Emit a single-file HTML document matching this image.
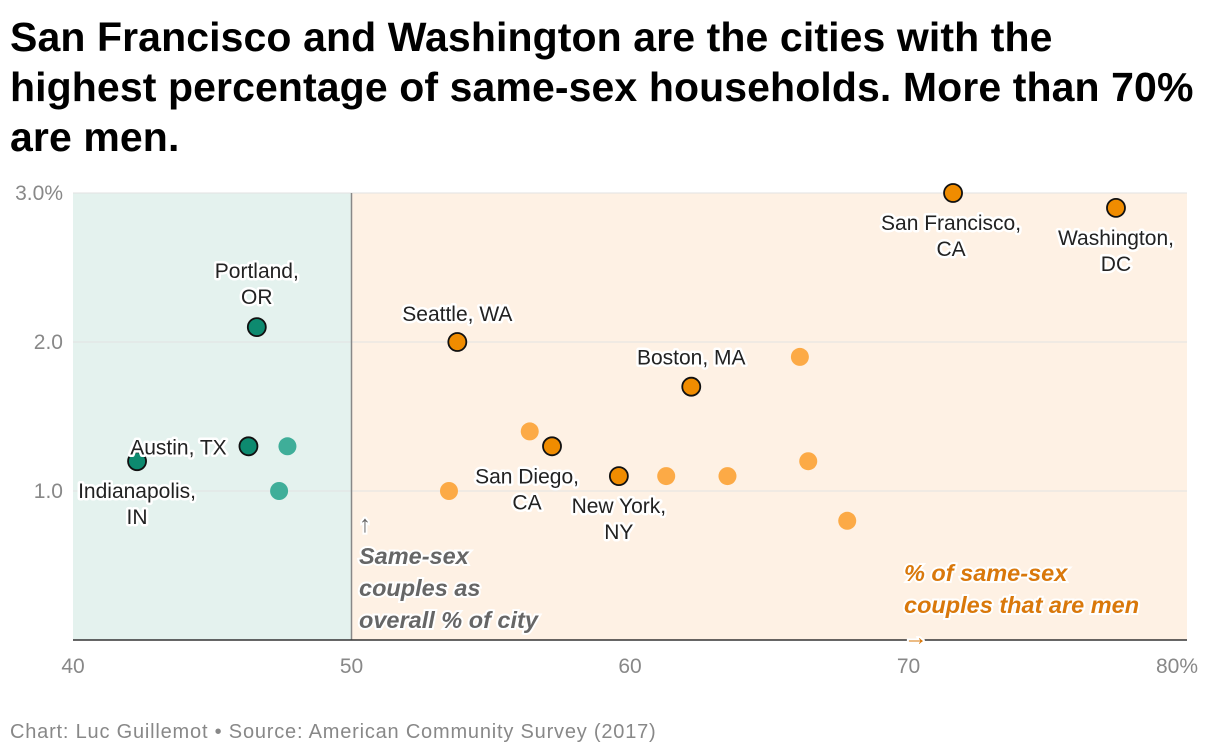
<!DOCTYPE html>
<html><head><meta charset="utf-8">
<style>
body{margin:0;width:1220px;height:756px;background:#fff;font-family:"Liberation Sans",sans-serif;overflow:hidden}
h1{position:absolute;left:10px;top:12px;margin:0;font-size:41px;line-height:50px;font-weight:bold;color:#000;white-space:nowrap;letter-spacing:0.1px}
#foot{position:absolute;left:10px;top:721px;font-size:20px;color:#888;letter-spacing:0.8px}
svg{position:absolute;left:0;top:0}
</style></head><body>
<h1>San Francisco and Washington are the cities with the<br>highest percentage of same-sex households. More than 70%<br>are men.</h1>
<svg id="chart" width="1220" height="756"></svg>
<div id="foot">Chart: Luc Guillemot • Source: American Community Survey (2017)</div>
<script>
const xTicks=[40,50,60,70,80];
const xTickLabels=["40","50","60","70","80%"];
const yTicks=[1,2,3];
const yTickLabels=["1.0","2.0","3.0%"];
const names=["Portland, OR","Austin, TX","Indianapolis, IN","Seattle, WA","San Francisco, CA","Washington, DC","Boston, MA","San Diego, CA","New York, NY","","","","","","","","",""];
const menPct=[46.6,46.3,42.3,53.8,71.6,77.45,62.2,57.2,59.6,47.7,47.4,53.5,56.4,61.3,63.5,66.1,66.4,67.8];
const sharePct=[2.1,1.3,1.2,2.0,3.0,2.9,1.7,1.3,1.1,1.3,1.0,1.0,1.4,1.1,1.1,1.9,1.2,0.8];
const labelLines=[["Portland,","OR"],["Austin, TX"],["Indianapolis,","IN"],["Seattle, WA"],["San Francisco,","CA"],["Washington,","DC"],["Boston, MA"],["San Diego,","CA"],["New York,","NY"]];
const labelOffsets=[[0,-49],[-70,8],[0,37],[0,-21],[-2,37],[0,37],[0,-22],[-25,37],[0,37]];
const NS="http://www.w3.org/2000/svg";
const svg=document.getElementById('chart');
const X=v=>73+(v-40)*(1187-73)/40;
const Y=v=>640-v*149;
function el(t,a,p){const e=document.createElementNS(NS,t);for(const k in a)e.setAttribute(k,a[k]);(p||svg).appendChild(e);return e;}
let r=el('rect',{x:X(40),y:Y(3),width:X(50)-X(40),height:Y(0)-Y(3),fill:'#e4f2ee'});

r=el('rect',{x:X(50),y:Y(3),width:X(80)-X(50),height:Y(0)-Y(3),fill:'#fef1e4'});

yTicks.forEach((t,i)=>{
 const g=el('line',{x1:X(40),x2:X(80),y1:Y(t),y2:Y(t),stroke:'#e2e2e2','stroke-width':1});
 
 const tx=el('text',{x:63,y:Y(t)+7,'text-anchor':'end','font-size':21,fill:'#888'});tx.textContent=yTickLabels[i];
 
});
xTicks.forEach((t,i)=>{
 const tx=el('text',{x:X(t)+(i==4?-10:0),y:673,'text-anchor':'middle','font-size':21,fill:'#888'});tx.textContent=xTickLabels[i];
 
});
let ln=el('line',{x1:X(50),x2:X(50),y1:Y(3),y2:Y(0),stroke:'#888','stroke-width':1.5});

ln=el('line',{x1:X(40),x2:X(80),y1:Y(0),y2:Y(0),stroke:'#333','stroke-width':1.5});

function ann(lines,x,y,color,name){
 const t=el('text',{x:x,y:y,'font-size':23.5,'font-weight':'bold','font-style':'italic',fill:color,stroke:'#fff','stroke-width':4,'paint-order':'stroke'});
 
 lines.forEach((l,i)=>{const s=el('tspan',{x:x,dy:i?32:0},t);s.textContent=l;});
}
ann(["↑","Same-sex","couples as","overall % of city"],359,532,'#666','y-axis-annotation');
ann(["% of same-sex","couples that are men","→"],904,581,'#d9780b','x-axis-annotation');
for(let i=names.length-1;i>=0;i--){
 const labeled=names[i]!=="";const men=menPct[i]<50;
 const fill=labeled?(men?'#0d8a6f':'#f08c00'):(men?'#3fae99':'#fcaa46');
 const c=el('circle',{cx:X(menPct[i]),cy:Y(sharePct[i]),r:9,fill:fill,stroke:labeled?'#111':'none','stroke-width':1.8});
 
}
labelLines.forEach((ls,i)=>{
 const x=X(menPct[i])+labelOffsets[i][0],y=Y(sharePct[i])+labelOffsets[i][1];
 const t=el('text',{x:x,y:y,'font-size':21,fill:'#222','text-anchor':'middle',stroke:'#fff','stroke-width':5,'paint-order':'stroke','stroke-linejoin':'round'});
 
 ls.forEach((l,j)=>{const s=el('tspan',{x:x,dy:j?26:0},t);s.textContent=l;});
});
</script>
</body></html>
